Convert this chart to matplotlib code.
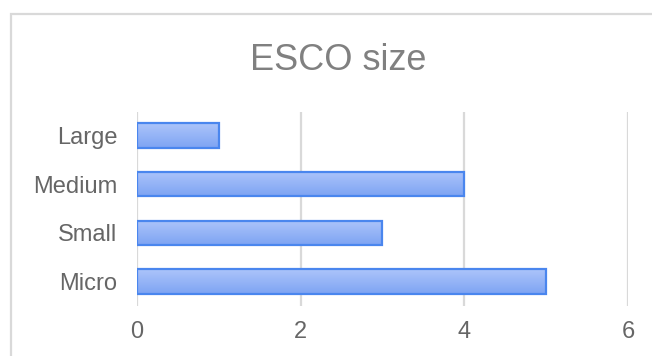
import numpy as np
import matplotlib.pyplot as plt
from matplotlib.patches import Rectangle
from matplotlib.colors import LinearSegmentedColormap

categories = ['Micro', 'Small', 'Medium', 'Large']
counts = [5, 3, 4, 1]
x_ticks = [0, 2, 4, 6]

plt.rcParams['font.family'] = ['Liberation Sans', 'DejaVu Sans']

fig = plt.figure(figsize=(6.52, 3.56), dpi=100)
ax = fig.add_axes([0.210, 0.1404, 0.753, 0.545])

# outer chart frame, cut off at right and bottom
fig.patches.append(Rectangle((11 / 652, -0.1), 2.0, 1.1 - 14 / 356,
                             transform=fig.transFigure, fill=False,
                             edgecolor='#d9d9d9', linewidth=1.6, zorder=0))

y = np.arange(len(categories))
bars = ax.barh(y, counts, height=0.5, facecolor='none',
               edgecolor='#4a86ee', linewidth=1.6, zorder=3)

grad = LinearSegmentedColormap.from_list('bar', ['#7ea4f3', '#acc4fa'])
ramp = np.linspace(0, 1, 64).reshape(-1, 1)
for b in bars:
    x0, y0 = b.get_x(), b.get_y()
    w, h = b.get_width(), b.get_height()
    im = ax.imshow(ramp, cmap=grad, aspect='auto', origin='lower',
                   extent=(x0, x0 + w, y0, y0 + h), zorder=2)
    im.set_clip_path(b)

ax.set_xlim(0, 6)
ax.set_ylim(-0.5, 3.48)
ax.set_xticks(x_ticks)
ax.set_yticks(y)
ax.set_yticklabels(categories)
ax.tick_params(length=0, labelsize=17, labelcolor='#666666')
ax.tick_params(axis='x', pad=11)
ax.tick_params(axis='y', pad=14)
ax.grid(axis='x', color='#d9d9d9', linewidth=1.6, zorder=0)
for s in ax.spines.values():
    s.set_visible(False)

fig.text(0.519, 0.83, 'ESCO size', ha='center', va='center',
         fontsize=26, color='#808080')

fig.savefig('out.png', dpi=100)
